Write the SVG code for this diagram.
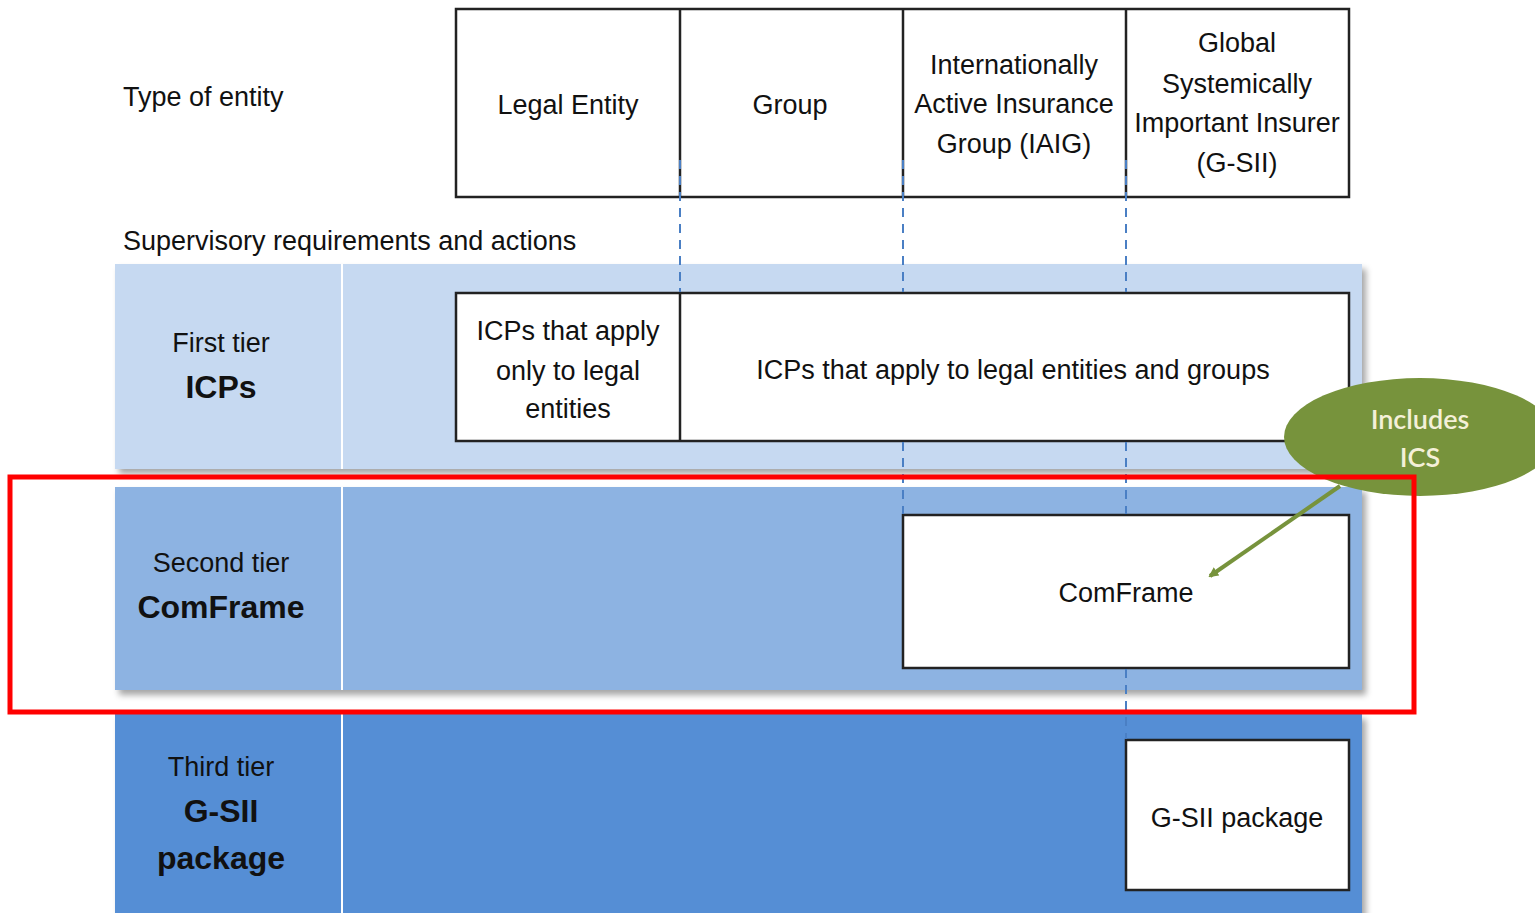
<svg xmlns="http://www.w3.org/2000/svg" width="1535" height="913" viewBox="0 0 1535 913">
<defs>
<style>
text{font-family:"Liberation Sans",Arial,sans-serif;fill:#111;text-anchor:middle}
.t{font-size:27px}
.b{font-size:32px;font-weight:bold}
.box{fill:#fff;stroke:#222;stroke-width:2.5}
.dash{stroke:#4a7fc4;stroke-width:2;stroke-dasharray:9,7;fill:none}
.div{stroke:#fff;stroke-width:2}
.ell{font-family:Lato,"Open Sans",sans-serif;font-size:27px;font-weight:600;fill:#f4f0d8}
</style>
<filter id="sh" x="-5%" y="-5%" width="110%" height="120%">
<feDropShadow dx="4" dy="5" stdDeviation="3" flood-color="#000" flood-opacity="0.35"/>
</filter>
<marker id="ah" markerWidth="10" markerHeight="10" refX="8" refY="5" orient="auto" markerUnits="userSpaceOnUse">
<path d="M0,0 L10,5 L0,10 z" fill="#77933c"/>
</marker>
</defs>
<rect width="1535" height="913" fill="#fff"/>

<g id="header">
<text class="t" x="123" y="106" style="text-anchor:start">Type of entity</text>
<text class="t" x="123" y="250" style="text-anchor:start">Supervisory requirements and actions</text>
</g>

<g id="entity-types">
<rect class="box" x="456" y="9" width="893" height="188"/>
<line x1="680" y1="9" x2="680" y2="197" stroke="#222" stroke-width="2.5"/>
<line x1="903" y1="9" x2="903" y2="197" stroke="#222" stroke-width="2.5"/>
<line x1="1126" y1="9" x2="1126" y2="197" stroke="#222" stroke-width="2.5"/>
<text class="t" x="568" y="114">Legal Entity</text>
<text class="t" x="790" y="114">Group</text>
<text class="t" x="1014" y="74">Internationally</text>
<text class="t" x="1014" y="113">Active Insurance</text>
<text class="t" x="1014" y="153">Group (IAIG)</text>
<text class="t" x="1237" y="52">Global</text>
<text class="t" x="1237" y="93">Systemically</text>
<text class="t" x="1237" y="132">Important Insurer</text>
<text class="t" x="1237" y="172">(G-SII)</text>
</g>

<g id="tier1">
<rect x="115" y="264" width="1247" height="205" fill="#c6d9f1" filter="url(#sh)"/>
<line class="div" x1="342" y1="264" x2="342" y2="469"/>
<text class="t" x="221" y="352">First tier</text>
<text class="b" x="221" y="398">ICPs</text>
</g>

<g id="tier2">
<rect x="115" y="487" width="1247" height="203" fill="#8db3e2" filter="url(#sh)"/>
<line class="div" x1="342" y1="487" x2="342" y2="690"/>
<text class="t" x="221" y="572">Second tier</text>
<text class="b" x="221" y="618">ComFrame</text>
</g>

<g id="tier3">
<rect x="115" y="714" width="1247" height="210" fill="#558ed5" filter="url(#sh)"/>
<line class="div" x1="342" y1="714" x2="342" y2="913"/>
<text class="t" x="221" y="776">Third tier</text>
<text class="b" x="221" y="822">G-SII</text>
<text class="b" x="221" y="869">package</text>
</g>

<g id="icps">
<rect class="box" x="456" y="293" width="893" height="148"/>
<line x1="680" y1="293" x2="680" y2="441" stroke="#222" stroke-width="2.5"/>
<text class="t" x="568" y="340">ICPs that apply</text>
<text class="t" x="568" y="380">only to legal</text>
<text class="t" x="568" y="418">entities</text>
<text class="t" x="1013" y="379">ICPs that apply to legal entities and groups</text>
</g>

<g id="comframe">
<rect class="box" x="903" y="515" width="446" height="153"/>
<text class="t" x="1126" y="602">ComFrame</text>
</g>

<g id="gsii">
<rect class="box" x="1126" y="740" width="223" height="150"/>
<text class="t" x="1237" y="827">G-SII package</text>
</g>

<g id="ics-callout">
<ellipse cx="1420" cy="437" rx="136" ry="59" fill="#77933c"/>
<text class="ell" x="1420" y="429">Includes</text>
<text class="ell" x="1420" y="467">ICS</text>
</g>

<g id="connectors">
<line class="dash" x1="680" y1="160" x2="680" y2="292"/>
<line class="dash" x1="903" y1="160" x2="903" y2="292"/>
<line class="dash" x1="903" y1="442" x2="903" y2="514"/>
<line class="dash" x1="1126" y1="160" x2="1126" y2="292"/>
<line class="dash" x1="1126" y1="442" x2="1126" y2="514"/>
<line class="dash" x1="1126" y1="669" x2="1126" y2="739"/>
<line x1="1340" y1="486" x2="1210" y2="576" stroke="#77933c" stroke-width="4" marker-end="url(#ah)"/>
</g>

<g id="highlight">
<rect x="10" y="477" width="1404" height="235" fill="none" stroke="#f00" stroke-width="5"/>
</g>
</svg>
